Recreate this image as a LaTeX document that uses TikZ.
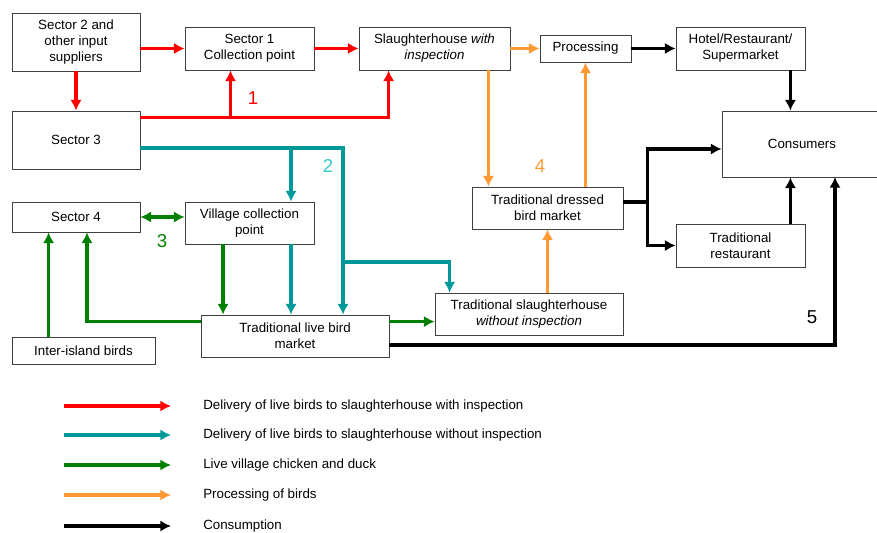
\documentclass[tikz,border=0pt]{standalone}
\usepackage{fontspec}
\setmainfont{Liberation Sans}
\usetikzlibrary{arrows.meta,calc}

\definecolor{flowred}{RGB}{255,0,0}
\definecolor{flowteal}{RGB}{0,153,153}
\definecolor{flowgreen}{RGB}{0,128,0}
\definecolor{floworange}{RGB}{255,153,51}
\definecolor{labelteal}{RGB}{51,204,204}

\tikzset{
  box/.style={draw=black!75, line width=0.6pt, fill=white, align=center,
    inner sep=1pt, font=\fontsize{10}{12}\selectfont},
  tip/.tip={Latex[length=8pt,width=8.5pt]},
  flow/.style={line width=2.6pt, -tip},
  redflow/.style={flow, flowred},
  tealflow/.style={flow, flowteal},
  greenflow/.style={flow, flowgreen},
  orangeflow/.style={flow, floworange, line width=2.3pt},
  blackflow/.style={flow, black},
  routenum/.style={font=\fontsize{14}{16}\selectfont}
}

\begin{document}
\begin{tikzpicture}[x=0.75pt, y=-0.75pt]

\useasboundingbox (0,0) rectangle (877,532);

% boxes
\node[box, minimum width=96pt, minimum height=43.5pt] (sec2) at (76,42)
  {Sector 2 and\\other input\\suppliers};
\node[box, minimum width=96.75pt, minimum height=32.25pt] (sec1) at (249.5,48.5)
  {Sector 1\\Collection point};
\node[box, minimum width=113.25pt, minimum height=32.25pt] (shwith) at (434.5,48.5)
  {Slaughterhouse \emph{with}\\\emph{inspection}};
\node[box, minimum width=68.25pt, minimum height=20.25pt] (proc) at (585.5,48.5)
  {Processing};
\node[box, minimum width=96.75pt, minimum height=32.25pt] (hotel) at (740.5,48.5)
  {Hotel/Restaurant/\\Supermarket};
\node[box, minimum width=96pt, minimum height=43.5pt] (sec3) at (76,140)
  {Sector 3};
\node[box, minimum width=120pt, minimum height=49.5pt] (cons) at (802,144)
  {Consumers};
\node[box, minimum width=96pt, minimum height=22.5pt] (sec4) at (76,217)
  {Sector 4};
\node[box, minimum width=96.75pt, minimum height=31.5pt] (vcp) at (249.5,223)
  {Village collection\\point};
\node[box, minimum width=141pt, minimum height=31.5pt] (live) at (295,336)
  {Traditional live bird\\market};
\node[box, minimum width=107.25pt, minimum height=20.25pt] (isl) at (83.5,350.5)
  {Inter-island birds};
\node[box, minimum width=113.25pt, minimum height=31.5pt] (dressed) at (547.5,208)
  {Traditional dressed\\bird market};
\node[box, minimum width=96.75pt, minimum height=32.25pt] (rest) at (740.5,245.5)
  {Traditional\\restaurant};
\node[box, minimum width=141pt, minimum height=31.5pt] (shwithout) at (529,314)
  {Traditional slaughterhouse\\\emph{without inspection}};

% junction points
\coordinate (r0) at ($(sec3.north east)+(0,7)$);
\coordinate (r1) at ($(sec1.south)+(-19,0)$);
\coordinate (r2) at ($(shwith.south west)+(30,0)$);
\coordinate (t0) at ($(sec3.east)+(0,8)$);
\coordinate (t1) at ($(vcp.north)+(41.5,0)$);
\coordinate (t2) at ($(live.north)+(48,0)$);
\coordinate (t3) at ($(shwithout.north west)+(15,0)$);
\coordinate (t4) at (343,262);
\coordinate (g1) at ($(vcp.south)+(-26.5,0)$);
\coordinate (g2) at ($(sec4.south)+(11,0)$);
\coordinate (g3) at ($(live.north west)+(0,7)$);
\coordinate (g4) at ($(isl.north west)+(37,0)$);
\coordinate (o1) at ($(shwith.south east)+(-22,0)$);
\coordinate (k0) at ($(dressed.east)+(0,-6)$);
\coordinate (k1) at ($(hotel.south east)+(-15,0)$);
\coordinate (k2) at ($(k0)+(24,0)$);
\coordinate (k3) at ($(cons.west)+(0,5)$);
\coordinate (k4) at ($(live.east)+(0,9)$);
\coordinate (k5) at (835,177);

% 1: red
\draw[redflow] (sec2.east |- sec1.west) -- (sec1.west);
\draw[redflow] (sec1.east) -- (shwith.west);
\draw[redflow] (sec2.south) -- (sec3.north);
\draw[redflow] (r0) -| (r2);
\draw[redflow] (r0 -| r1) -- (r1);

% 2: teal
\draw[tealflow] (t0) -| (t2);
\draw[tealflow] (t0 -| t1) -- (t1);
\draw[tealflow] (vcp.south -| t1) -- (live.north -| t1);
\draw[tealflow] (t4) -| (t3);

% 3: green
\draw[greenflow, tip-tip] (sec4.east) -- (vcp.west |- sec4.east);
\draw[greenflow] (g1) -- (live.north -| g1);
\draw[greenflow] (g3) -| (g2);
\draw[greenflow] (g4) -- (sec4.south -| g4);
\draw[greenflow] (live.east |- g3) -- (shwithout.west |- g3);

% 4: orange
\draw[orangeflow] (shwith.east) -- (proc.west);
\draw[orangeflow] (o1) -- (dressed.north -| o1);
\draw[orangeflow] (dressed.north -| proc.south) -- (proc.south);
\draw[orangeflow] (shwithout.north -| dressed.south) -- (dressed.south);

% 5: black
\draw[blackflow] (proc.east) -- (hotel.west);
\draw[blackflow] (k1) -- (cons.north -| k1);
\draw[line width=2.6pt] (k0) -- (k2);
\draw[blackflow] (k2) |- (k3);
\draw[blackflow] (k2) |- (rest.west);
\draw[blackflow] (rest.north -| k1) -- (cons.south -| k1);
\draw[blackflow] (k4) -| (k5);

% route numbers
\node[routenum, text=flowred] (n1) at (253,98) {1};
\node[routenum, text=labelteal] (n2) at (328,166) {2};
\node[routenum, text=flowgreen] (n3) at (162,241) {3};
\node[routenum, text=floworange] (n4) at (540,166) {4};
\node[routenum] (n5) at (812,317) {5};

% legend
\foreach \y/\c/\t in {406/flowred/Delivery of live birds to slaughterhouse with inspection,
                      435/flowteal/Delivery of live birds to slaughterhouse without inspection,
                      465/flowgreen/Live village chicken and duck,
                      495/floworange/Processing of birds,
                      526/black/Consumption}
{
  \coordinate (ls\y) at (64,\y);
  \coordinate (le\y) at (171,\y);
  \draw[flow, \c] (ls\y) -- (le\y);
  \node[anchor=west, inner sep=0pt, font=\fontsize{10}{12}\selectfont] (lt\y) at (203,\y) {\t};
}
\end{tikzpicture}
\end{document}
